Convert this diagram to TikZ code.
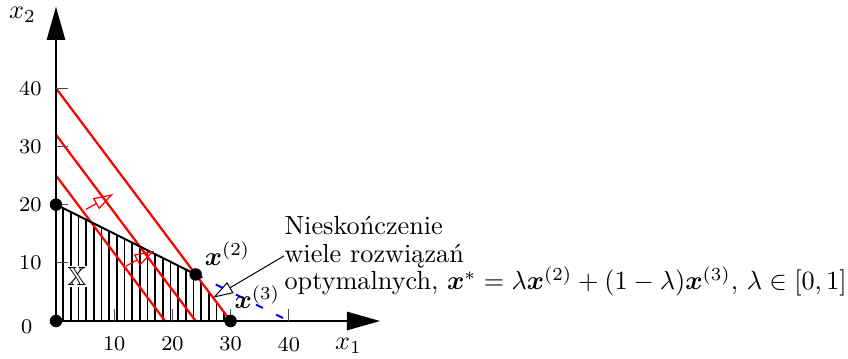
\documentclass[tikz,border=0pt]{standalone}
\usepackage{amsmath,amssymb}
\usepackage{graphicx}
\usepackage{fontspec}
\usetikzlibrary{arrows.meta}
\newcommand\sbx[1]{\scalebox{1.05}{#1}}
\begin{document}
\begin{tikzpicture}[x=2.328pt,y=2.328pt,
  axisline/.style={line width=0.8pt,-{Triangle[length=13.3pt,width=7.3pt]}},
  tickmark/.style={line width=0.4pt,black!70},
  ticklabel/.style={font=\footnotesize,inner sep=0pt},
  hatch/.style={line width=0.65pt},
  objline/.style={red,line width=0.9pt},
  redarrow/.style={red,line width=0.5pt,-{Triangle[open,length=8pt,width=5pt]}},
  bound/.style={line width=0.8pt},
  constr/.style={blue,line width=0.8pt,dash pattern=on 3pt off 6pt},
  dot/.style={circle,fill=black,inner sep=0pt,minimum size=5pt},
  txt/.style={anchor=base west,inner sep=0pt},
  annot/.style={line width=0.4pt,-{Triangle[open,length=8pt,width=5pt]}}]
\useasboundingbox (-9.622,-6.357) rectangle (136.08,55.155);
% key points
\coordinate (O) at (0,0);
\coordinate (A) at (0,20);
\coordinate (B) at (24,8);
\coordinate (C) at (30,0);
\coordinate (D) at (40,0);
\coordinate (xend) at (55.7,0);
\coordinate (yend) at (0,54);
% hatching of feasible region
\begin{scope}
  \clip (O) -- (A) -- (B) -- (C) -- cycle;
  \foreach \i in {0,...,22} {
    \draw[hatch] ({1.25+1.315*\i},-1) -- ({1.25+1.315*\i},25);
  }
\end{scope}
\node[fill=white,inner sep=0.6pt] (X) at (3.6,7.65) {\sbx{$\mathbb{X}$}};
% objective lines
\coordinate (l1a) at (0,40); \coordinate (l1b) at (30,0);
\coordinate (l2a) at (0,32); \coordinate (l2b) at (24,0);
\coordinate (l3a) at (0,25); \coordinate (l3b) at (18.75,0);
\draw[objline] (l1a) -- (l1b);
\draw[objline] (l2a) -- (l2b);
\draw[objline] (l3a) -- (l3b);
% boundary and constraint
\draw[bound] (A) -- (B);
\draw[constr] (B) -- (D);
% red direction arrows
\coordinate (r1s) at (5.15,19.19); \coordinate (r1e) at (9.85,21.83);
\coordinate (r2s) at (12.03,9.45); \coordinate (r2e) at (16.9,12.08);
\draw[redarrow] (r1s) -- (r1e);
\draw[redarrow] (r2s) -- (r2e);
% axes
\draw[axisline] (O) -- (xend);
\draw[axisline] (O) -- (yend);
% ticks
\foreach \v in {10,20,30,40} {
  \draw[tickmark] (\v,0) -- (\v,2);
  \draw[tickmark] (0,\v) -- (2,\v);
  \node[ticklabel] at (\v,-3.98) {\sbx{\v}};
  \node[ticklabel,anchor=east] at (-2.4,\v) {\sbx{\v}};
}
\node[ticklabel] at (-5.04,-0.98) {\sbx{0}};
\node (xl) at (50.26,-4.3) {\sbx{$x_1$}};
\node (yl) at (-5.76,52.6) {\sbx{$x_2$}};
% dots
\node[dot] (pO) at (O) {};
\node[dot] (pA) at (A) {};
\node[dot] (pB) at (B) {};
\node[dot] (pC) at (C) {};
\node (lb2) at (29.47,11.6) {\sbx{$\boldsymbol{x}^{(2)}$}};
\node (lb3) at (34.6,4.1) {\sbx{$\boldsymbol{x}^{(3)}$}};
% annotation
\node[txt] (t1) at (39.18,14.83) {\sbx{Nieskończenie}};
\node[txt] (t2) at (39.18,10.09) {\sbx{wiele rozwiązań}};
\node[txt] (t3) at (39.18,5.33) {\sbx{optymalnych, $\boldsymbol{x}^{*}=\lambda\boldsymbol{x}^{(2)}+(1-\lambda)\boldsymbol{x}^{(3)}$, $\lambda\in[0,1]$}};
\coordinate (mid) at (27,4);
\draw[annot] (t2.west) -- (mid);
\end{tikzpicture}
\end{document}
